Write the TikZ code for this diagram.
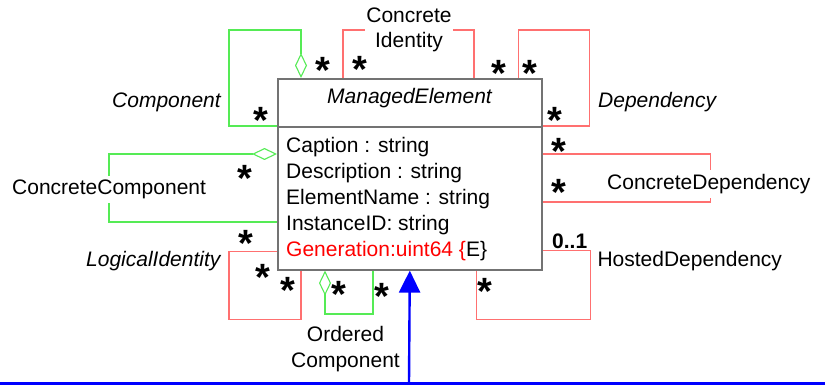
\documentclass[tikz,border=0pt]{standalone}
\usepackage{fontspec}
\setmainfont{Liberation Sans}
\usetikzlibrary{arrows.meta}
\definecolor{assocred}{RGB}{255,112,112}
\definecolor{assocgreen}{RGB}{85,235,85}
\definecolor{boxgray}{RGB}{115,115,115}

\begin{document}
\begin{tikzpicture}[x=1pt, y=-1pt,
	every node/.style={inner sep=0pt, font=\fontsize{21}{26}\selectfont},
	classbox/.style={draw=boxgray, line width=1.6pt, minimum width=264pt, anchor=north west},
	lbl/.style={fill=white, inner xsep=1pt, inner ysep=4pt},
	mult/.style={anchor=base, yshift=-21.5pt, font=\fontsize{38}{38}\selectfont\bfseries},
	redassoc/.style={draw=assocred, line width=1.3pt},
	greenassoc/.style={draw=assocgreen, line width=1.1pt},
	agg/.style={-{Diamond[open, length=25pt, width=12pt]}},
	inherit/.style={draw=blue, line width=2.4pt, -{Triangle[length=22pt, width=21pt]}}]
	\useasboundingbox (0,0) rectangle (825,385);

	% the class
	\node[classbox, minimum height=48pt] (mehead) at (277,78) {};
	\node[classbox, minimum height=143pt] (mebody) at (277,126) {};
	\node[anchor=base, font=\fontsize{21}{26}\selectfont\itshape] (mename) at (409.5,104) {ManagedElement};
	\node[anchor=base west] (caption) at (286,152.5) {Caption : string};
	\node[anchor=base west] (description) at (286,178.5) {Description : string};
	\node[anchor=base west] (elemname) at (286,204.5) {ElementName : string};
	\node[anchor=base west] (instid) at (286,230.5) {InstanceID: string};
	\node[anchor=base west] (generation) at (286,256.5) {{\color{red}Generation:uint64 \{}E\}};

	% ends on the class border
	\coordinate (cmpTop) at ([xshift=24pt]mehead.north west);
	\coordinate (ciA) at ([xshift=66pt]mehead.north west);
	\coordinate (ciB) at ([xshift=197pt]mehead.north west);
	\coordinate (depA) at ([xshift=-24pt]mehead.north east);
	\coordinate (ccA) at ([yshift=-28pt]mebody.north west);
	\coordinate (ccB) at ([yshift=-96pt]mebody.north west);
	\coordinate (cdA) at ([yshift=-28pt]mebody.north east);
	\coordinate (cdB) at ([yshift=-76pt]mebody.north east);
	\coordinate (hdA) at ([yshift=20pt]mebody.south east);
	\coordinate (hdB) at ([xshift=-66pt]mebody.south east);
	\coordinate (liA) at ([yshift=19pt]mebody.south west);
	\coordinate (liB) at ([xshift=24pt]mebody.south west);
	\coordinate (ocA) at ([xshift=96pt]mebody.south west);
	\coordinate (ocB) at ([xshift=48pt]mebody.south west);
	\coordinate (root) at (409,383.3);
	\coordinate (rootL) at (0,383.3);
	\coordinate (rootR) at (825,383.3);

	% associations
	\draw[greenassoc, agg] (mebody.north west) -| (229,30) -| (cmpTop);
	\draw[greenassoc, agg] (ccB) -| (109,154) -- (ccA);
	\draw[greenassoc, agg] (ocA) |- (325,314) -- (ocB);
	\draw[redassoc] (ciA) -- ++(0,-48) -| (ciB);
	\draw[redassoc] (depA) -- ++(0,-48) -- ++(71,0) |- (mebody.north east);
	\draw[redassoc] (cdA) -- ++(168,0) |- (cdB);
	\draw[redassoc] (hdA) -- ++(48,0) -- ++(0,69) -| (hdB);
	\draw[redassoc] (liA) -- ++(-48,0) -- ++(0,68) -| (liB);
	\draw[draw=blue, line width=2.4pt] (rootL) -- (rootR);
	\draw[inherit] (root) -- (mebody.south);

	% association names
	\node[anchor=base west, font=\fontsize{21}{26}\selectfont\itshape] (component) at (112,108) {Component};
	\node[anchor=base west, font=\fontsize{21}{26}\selectfont\itshape] (dependency) at (598,108) {Dependency};
	\node[lbl, anchor=north, align=center, font=\fontsize{21}{24.5}\selectfont] (concid) at (409,4) {Concrete\\Identity};
	\node[lbl, anchor=base west] (conccomp) at (11,194.5) {ConcreteComponent};
	\node[lbl, anchor=base west] (concdep) at (606,189.3) {ConcreteDependency};
	\node[anchor=base west] (hosteddep) at (597.3,266) {HostedDependency};
	\node[anchor=base west, font=\fontsize{21}{26}\selectfont\itshape] (logid) at (86,266.7) {LogicalIdentity};
	\node[anchor=north, align=center] (ordcomp) at (345.5,326.5) {Ordered\\Component};

	% multiplicities
	\node[mult] (m1) at (323,62.5) {*};
	\node[mult] (m2) at (261,112) {*};
	\node[mult] (m3) at (360,61) {*};
	\node[mult] (m4) at (499,65.5) {*};
	\node[mult] (m5) at (530,65.5) {*};
	\node[mult] (m6) at (555,111.7) {*};
	\node[mult] (m7) at (245,170) {*};
	\node[mult] (m8) at (246,235) {*};
	\node[mult] (m9) at (559,143) {*};
	\node[mult] (m10) at (559,184) {*};
	\node[mult] (m11) at (485,283) {*};
	\node[mult] (m12) at (263.3,269.3) {*};
	\node[mult] (m13) at (288.3,281.7) {*};
	\node[mult] (m14) at (339.3,286) {*};
	\node[mult] (m15) at (381.7,287.7) {*};
	\node[anchor=base west, font=\fontsize{21}{26}\selectfont\bfseries] (hdmult) at (552,248.5) {0..1};
\end{tikzpicture}
\end{document}
